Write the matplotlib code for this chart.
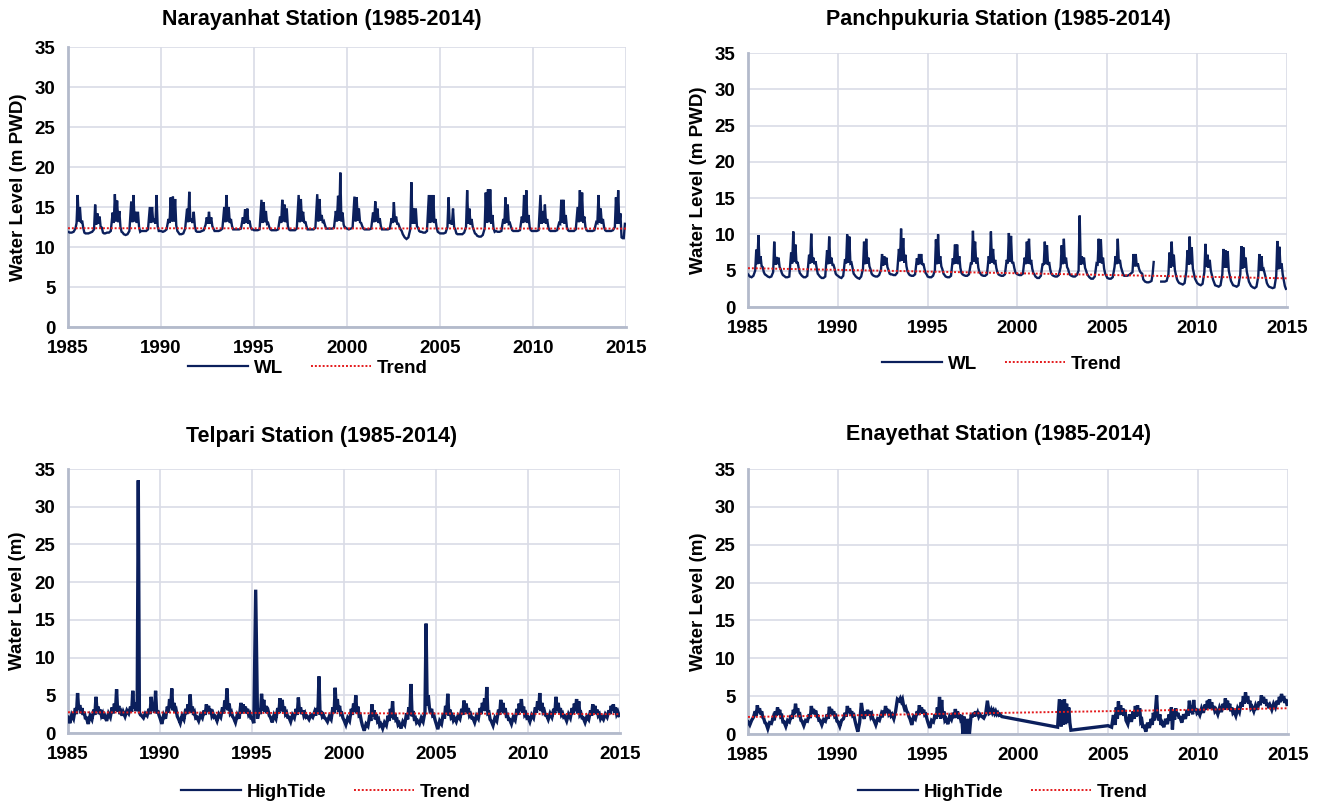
import numpy as np
import matplotlib
matplotlib.use("Agg")
import matplotlib.pyplot as plt
from matplotlib import font_manager

nan = np.nan

# ---------------- DATA ----------------
years = list(range(1985, 2015))
# sampling positions inside each year (fraction of year)
year_frac = [0.00, 0.10, 0.20, 0.30, 0.40, 0.46, 0.52, 0.58, 0.64, 0.70, 0.76, 0.82, 0.88, 0.94]

narayanhat_wl = [
    [11.9, 11.8, 11.8, 11.9, 12.3, 13.0, 16.5, 13.2, 15.0, 13.0, 13.3, 12.4, 11.8, 11.7],
    [11.7, 11.7, 11.8, 11.9, 12.2, 15.3, 12.8, 14.2, 12.9, 13.8, 12.4, 12.4, 11.8, 11.7],
    [11.7, 11.8, 11.8, 12.0, 14.3, 13.0, 16.6, 13.2, 15.8, 13.1, 14.5, 12.5, 11.9, 11.8],
    [11.6, 11.5, 11.6, 12.0, 15.7, 13.1, 16.5, 13.2, 14.4, 13.0, 14.4, 12.5, 11.9, 12.0],
    [12.0, 12.0, 12.0, 12.2, 15.0, 13.0, 15.0, 13.1, 13.5, 12.9, 16.5, 12.6, 12.0, 12.0],
    [12.0, 11.9, 12.0, 12.2, 13.5, 13.0, 16.2, 13.2, 16.3, 13.2, 16.0, 12.7, 12.0, 11.8],
    [11.6, 11.6, 11.7, 12.3, 14.8, 13.1, 16.9, 13.2, 13.5, 13.0, 14.4, 12.6, 12.0, 11.9],
    [11.9, 11.9, 12.0, 12.1, 12.8, 13.7, 12.9, 14.4, 12.9, 13.7, 12.6, 12.3, 12.0, 12.0],
    [12.0, 12.0, 12.1, 12.3, 15.0, 13.1, 16.5, 13.2, 15.0, 13.0, 13.5, 12.6, 12.2, 12.2],
    [12.2, 12.2, 12.2, 12.3, 13.7, 12.9, 14.7, 13.0, 14.8, 12.9, 13.3, 12.5, 12.2, 12.2],
    [12.1, 12.1, 12.1, 12.2, 15.9, 13.0, 15.6, 13.1, 14.5, 12.9, 13.0, 12.5, 12.2, 12.1],
    [12.1, 12.1, 12.1, 12.2, 13.8, 13.0, 15.9, 13.2, 15.3, 13.1, 14.8, 12.6, 12.2, 12.1],
    [12.1, 12.1, 12.1, 12.3, 16.5, 13.1, 16.0, 13.2, 14.4, 13.0, 13.2, 12.6, 12.2, 12.2],
    [12.2, 12.2, 12.2, 12.4, 16.6, 13.2, 16.0, 13.3, 14.0, 13.0, 13.2, 12.7, 12.3, 12.3],
    [12.3, 12.3, 12.3, 12.4, 14.5, 13.2, 16.4, 13.3, 19.3, 13.2, 14.3, 12.8, 12.4, 12.4],
    [12.3, 12.2, 12.3, 12.4, 16.3, 13.2, 16.2, 13.3, 14.8, 13.1, 13.0, 12.6, 12.3, 12.2],
    [12.2, 12.2, 12.2, 12.3, 14.3, 13.1, 15.7, 13.2, 14.8, 13.0, 13.6, 12.6, 12.2, 12.2],
    [12.2, 12.2, 12.2, 12.3, 13.6, 13.0, 15.6, 13.1, 13.8, 12.9, 12.9, 12.5, 12.2, 12.0],
    [11.6, 11.2, 11.0, 11.2, 12.2, 18.1, 12.9, 14.8, 12.9, 14.8, 12.6, 12.4, 12.0, 11.9],
    [11.9, 11.8, 11.8, 12.0, 16.5, 13.0, 16.5, 13.1, 16.5, 13.0, 13.5, 12.4, 11.9, 11.8],
    [11.7, 11.7, 11.7, 11.8, 12.5, 16.2, 12.9, 13.3, 12.8, 14.8, 12.5, 12.2, 11.7, 11.6],
    [11.6, 11.6, 11.6, 11.8, 12.5, 17.1, 12.9, 14.8, 12.8, 13.5, 12.5, 12.1, 11.7, 11.6],
    [11.4, 11.3, 11.3, 11.5, 12.3, 16.8, 13.0, 17.2, 13.1, 17.2, 12.9, 14.0, 12.3, 11.9],
    [12.0, 11.9, 11.9, 12.0, 13.5, 12.9, 16.2, 13.0, 15.3, 12.9, 13.0, 12.5, 12.1, 12.0],
    [12.0, 12.0, 12.0, 12.1, 13.8, 13.0, 16.5, 13.1, 17.1, 13.0, 14.0, 12.5, 12.1, 12.0],
    [12.0, 12.0, 12.0, 12.1, 16.5, 12.9, 14.5, 13.0, 15.3, 12.9, 13.5, 12.5, 12.1, 12.0],
    [12.0, 12.0, 12.0, 12.1, 13.0, 12.9, 15.9, 13.0, 15.9, 12.9, 14.0, 12.5, 12.1, 12.0],
    [12.0, 12.0, 12.0, 12.2, 15.0, 13.1, 17.1, 13.2, 16.8, 13.0, 13.8, 12.5, 12.1, 12.0],
    [12.0, 12.0, 12.0, 12.1, 13.1, 13.0, 16.5, 13.0, 14.8, 12.9, 13.5, 12.5, 12.1, 12.0],
    [12.0, 12.0, 12.0, 12.1, 12.5, 16.2, 12.9, 17.1, 12.9, 14.2, 11.2, 11.1, 11.1, 12.9],
]

panchpukuria_wl = [
    [4.5, 4.2, 4.1, 4.3, 5.0, 7.9, 5.9, 9.9, 6.0, 7.0, 5.6, 5.5, 4.8, 4.5],
    [4.4, 4.2, 4.1, 4.2, 4.8, 9.0, 5.8, 6.9, 5.9, 6.8, 5.5, 5.2, 4.7, 4.4],
    [4.3, 4.1, 4.1, 4.2, 7.5, 6.0, 10.4, 6.2, 8.6, 6.0, 6.2, 5.4, 4.7, 4.5],
    [4.3, 4.1, 4.1, 4.3, 7.2, 6.0, 10.1, 6.1, 6.8, 5.9, 6.3, 5.4, 4.6, 4.4],
    [4.2, 4.0, 4.0, 4.2, 7.8, 5.9, 9.7, 6.0, 6.8, 5.8, 5.8, 5.3, 4.6, 4.4],
    [4.3, 4.1, 4.0, 4.3, 6.6, 6.0, 10.0, 6.1, 9.7, 6.0, 6.1, 5.4, 4.6, 4.4],
    [4.2, 4.0, 3.9, 4.2, 5.3, 9.0, 5.9, 9.4, 6.0, 6.8, 5.6, 5.2, 4.6, 4.4],
    [4.3, 4.2, 4.2, 4.4, 5.1, 7.3, 5.7, 7.0, 5.8, 6.8, 5.5, 5.1, 4.6, 4.5],
    [4.5, 4.4, 4.4, 4.7, 8.0, 6.3, 10.8, 6.4, 9.5, 6.1, 7.2, 5.6, 4.9, 4.6],
    [4.4, 4.3, 4.3, 4.5, 6.7, 5.8, 7.3, 5.9, 7.3, 5.8, 6.0, 5.3, 4.7, 4.5],
    [4.2, 4.1, 4.1, 4.3, 5.0, 9.3, 5.9, 10.0, 6.0, 7.0, 5.6, 5.2, 4.6, 4.4],
    [4.2, 4.1, 4.1, 4.3, 6.7, 5.9, 8.6, 6.0, 8.6, 5.9, 7.0, 5.4, 4.7, 4.5],
    [4.4, 4.3, 4.3, 4.5, 6.0, 6.0, 10.5, 6.2, 9.0, 6.0, 6.8, 5.4, 4.8, 4.6],
    [4.4, 4.3, 4.3, 4.5, 7.0, 6.0, 10.4, 6.1, 8.0, 5.9, 6.5, 5.4, 4.8, 4.5],
    [4.4, 4.3, 4.3, 4.5, 6.5, 6.0, 10.2, 6.2, 9.8, 6.0, 6.2, 5.4, 4.8, 4.6],
    [4.5, 4.4, 4.4, 4.6, 6.8, 5.9, 9.0, 6.0, 9.4, 5.9, 6.5, 5.3, 4.7, 4.5],
    [4.2, 4.0, 4.0, 4.3, 6.0, 5.8, 9.0, 5.9, 8.5, 5.8, 6.2, 5.2, 4.6, 4.4],
    [4.3, 4.2, 4.2, 4.4, 5.5, 8.5, 5.9, 9.4, 6.0, 6.8, 5.5, 5.2, 4.6, 4.4],
    [4.3, 4.2, 4.2, 4.4, 5.0, 12.6, 5.8, 7.0, 5.9, 6.8, 5.4, 5.0, 4.5, 4.3],
    [4.1, 3.9, 3.9, 4.2, 6.0, 5.9, 9.4, 6.1, 9.3, 6.0, 6.8, 5.3, 4.6, 4.3],
    [4.0, 3.9, 3.9, 4.1, 5.5, 7.0, 5.9, 9.4, 6.0, 6.5, 5.5, 5.0, 4.5, 4.3],
    [4.3, 4.3, 4.4, 4.6, 4.8, 7.3, 5.6, 7.3, 5.6, 6.0, 5.3, 4.9, 4.7, 4.6],
    [3.8, 3.5, 3.4, 3.4, 3.5, 3.6, 4.5, 6.2, nan, nan, nan, nan, nan, nan],
    [3.5, 3.5, 3.5, 3.6, 4.5, 7.5, 5.4, 9.0, 5.6, 7.2, 5.1, 4.4, 3.8, 3.5],
    [3.3, 3.2, 3.1, 3.3, 5.0, 7.8, 5.8, 9.7, 5.9, 8.2, 5.3, 4.6, 3.9, 3.6],
    [3.3, 3.1, 3.0, 3.2, 4.8, 8.7, 5.5, 7.2, 5.4, 6.5, 5.0, 4.4, 3.8, 3.4],
    [3.0, 2.9, 2.8, 3.0, 4.5, 8.0, 5.4, 7.8, 5.4, 7.7, 5.0, 4.3, 3.6, 3.3],
    [3.0, 2.9, 2.8, 3.0, 4.5, 8.4, 5.3, 8.2, 5.4, 6.8, 4.9, 4.2, 3.5, 3.2],
    [2.9, 2.7, 2.6, 2.8, 4.2, 7.3, 5.0, 7.0, 5.0, 5.2, 4.6, 4.0, 3.3, 3.0],
    [2.8, 2.7, 2.6, 2.7, 4.3, 9.1, 5.2, 8.3, 5.3, 6.0, 4.5, 3.7, 2.9, 2.5],
]

telpari_hightide = [
    [2.1, 1.3, 2.4, 1.9, 3.3, 2.5, 5.3, 3.1, 3.7, 2.6, 3.3, 2.4, 2.8, 2.0],
    [2.0, 1.2, 2.3, 1.8, 3.1, 2.4, 4.8, 2.9, 3.5, 2.5, 3.1, 2.3, 2.6, 1.9],
    [2.3, 1.6, 2.6, 2.1, 3.4, 2.6, 3.9, 3.0, 5.8, 2.8, 3.6, 2.5, 2.8, 2.3],
    [2.8, 2.2, 3.0, 2.6, 3.5, 2.8, 5.6, 3.2, 4.0, 2.9, 3.5, 33.5, 2.7, 2.4],
    [2.3, 2.0, 2.6, 2.3, 3.2, 2.5, 4.8, 3.0, 3.8, 2.7, 5.6, 2.6, 3.0, 2.4],
    [2.0, 1.2, 2.4, 1.9, 3.5, 2.7, 4.5, 3.3, 5.9, 3.0, 4.0, 2.7, 3.0, 2.2],
    [1.9, 1.3, 2.3, 1.8, 3.2, 2.5, 3.8, 2.9, 5.1, 2.7, 3.5, 2.4, 2.7, 2.0],
    [2.1, 1.6, 2.4, 2.0, 3.0, 2.4, 3.8, 2.8, 3.6, 2.5, 3.2, 2.3, 2.6, 2.1],
    [2.2, 1.6, 2.5, 2.1, 3.4, 2.6, 4.3, 3.2, 5.9, 3.0, 3.9, 2.6, 2.8, 2.2],
    [2.0, 1.4, 2.4, 1.9, 4.0, 2.6, 3.8, 2.9, 3.5, 2.6, 3.2, 2.4, 2.6, 2.0],
    [2.0, 1.3, 19.0, 1.9, 3.2, 2.5, 5.2, 3.0, 4.4, 2.8, 3.6, 2.6, 2.9, 2.3],
    [2.1, 1.4, 2.4, 1.9, 3.3, 2.6, 4.6, 3.0, 4.4, 2.8, 3.5, 2.5, 2.7, 2.1],
    [2.1, 1.5, 2.4, 2.0, 3.2, 2.4, 4.7, 2.9, 3.4, 2.5, 3.0, 2.3, 2.6, 2.1],
    [2.2, 1.8, 2.4, 2.1, 2.8, 2.3, 3.3, 2.6, 7.5, 2.4, 2.9, 2.2, 2.4, 2.0],
    [1.9, 1.5, 2.2, 1.8, 3.4, 2.6, 6.0, 3.1, 4.5, 2.8, 3.6, 2.5, 2.6, 2.0],
    [1.7, 1.1, 2.0, 1.6, 3.2, 2.4, 3.9, 2.8, 5.0, 2.6, 3.5, 2.3, 2.4, 1.6],
    [1.0, 0.3, 1.2, 0.9, 2.4, 1.6, 3.8, 2.2, 3.0, 1.8, 2.5, 1.6, 1.8, 1.0],
    [1.2, 0.6, 1.4, 1.0, 2.3, 1.6, 3.2, 2.0, 4.2, 1.8, 2.6, 1.7, 1.8, 1.1],
    [1.3, 0.6, 1.5, 1.1, 2.6, 1.8, 3.4, 2.4, 6.5, 2.2, 2.9, 1.9, 2.0, 1.4],
    [1.6, 1.2, 2.0, 1.5, 2.8, 14.5, 3.6, 5.0, 3.4, 2.6, 3.2, 2.3, 2.4, 1.8],
    [1.3, 0.5, 1.6, 1.2, 2.6, 1.9, 3.6, 2.5, 5.2, 2.3, 3.1, 2.1, 2.3, 1.7],
    [2.0, 1.5, 2.3, 1.9, 3.2, 2.4, 4.3, 2.9, 3.9, 2.6, 3.3, 2.3, 2.5, 2.0],
    [2.0, 1.4, 2.3, 1.9, 3.3, 2.5, 4.0, 3.0, 4.6, 2.9, 6.1, 2.6, 2.7, 1.8],
    [1.6, 1.0, 2.0, 1.6, 3.1, 2.4, 4.4, 2.8, 4.0, 2.6, 3.3, 2.3, 2.4, 1.8],
    [1.8, 1.2, 2.1, 1.7, 3.2, 2.4, 3.9, 2.9, 4.5, 2.7, 3.5, 2.4, 2.6, 2.0],
    [2.1, 1.5, 2.4, 2.0, 3.4, 2.7, 4.2, 3.1, 5.3, 2.9, 4.0, 2.8, 3.0, 2.4],
    [2.4, 1.8, 2.6, 2.1, 3.2, 2.6, 4.8, 3.0, 4.0, 2.7, 3.3, 2.4, 2.6, 2.1],
    [2.2, 1.6, 2.5, 2.0, 3.3, 2.5, 3.9, 2.9, 4.5, 2.6, 4.2, 2.4, 2.6, 2.0],
    [2.0, 1.4, 2.2, 1.8, 3.0, 2.3, 3.8, 2.7, 3.6, 2.5, 3.1, 2.3, 2.5, 1.9],
    [2.2, 1.8, 2.5, 2.1, 3.0, 2.5, 3.6, 3.0, 3.8, 2.7, 3.4, 2.5, 2.8, 2.3],
]

# missing readings are nan; the chart joins the remaining points straight across
enayethat_hightide = [
    [1.6, 1.2, 1.8, 2.2, 3.0, 2.4, 3.8, 2.8, 3.4, 2.6, 3.0, 2.2, 2.0, 1.5],
    [1.4, 0.7, 1.5, 1.4, 2.2, 1.8, 3.0, 2.4, 3.5, 2.6, 3.2, 2.3, 2.4, 1.6],
    [1.6, 1.0, 1.8, 1.6, 2.5, 2.0, 3.2, 2.6, 4.0, 2.8, 3.4, 2.5, 2.6, 1.8],
    [1.7, 1.1, 1.8, 1.7, 2.6, 2.1, 3.7, 2.7, 3.3, 2.6, 3.1, 2.4, 2.4, 1.8],
    [1.8, 1.2, 1.9, 1.7, 2.6, 2.0, 3.6, 2.7, 3.3, 2.5, 3.0, 2.3, 2.4, 1.7],
    [1.6, 1.0, 1.8, 2.0, 2.8, 2.3, 3.7, 2.8, 3.4, 2.6, 3.0, 2.4, 2.5, 1.8],
    [1.2, 0.3, 1.5, 4.1, 2.4, 2.0, 3.0, 2.4, 3.2, 2.5, 3.0, 2.3, 2.6, 2.0],
    [1.8, 1.2, 2.0, 1.8, 2.6, 2.2, 3.1, 2.6, 3.7, 2.8, 3.3, 2.6, 2.8, 2.4],
    [2.6, 2.0, 3.0, 4.6, 4.4, 4.7, 4.3, 4.6, 3.8, 3.3, 3.5, 3.0, 2.8, 2.3],
    [2.0, 1.2, 2.3, 2.0, 3.0, 2.5, 3.8, 2.9, 3.5, 2.7, 3.2, 2.5, 2.6, 2.0],
    [1.5, 0.8, 1.8, 1.6, 2.6, 2.0, 3.5, 2.3, 4.9, 2.0, 4.5, 2.2, 3.0, 1.8],
    [2.0, 1.3, 2.3, 1.9, 2.8, 2.1, 3.3, 2.2, 3.0, 2.0, 2.6, 1.9, 2.1, 0.0],
    [2.3, 0.0, 2.0, 0.0, 2.6, 2.2, 2.8, 2.3, 3.0, 2.4, 2.8, 2.3, 2.6, 2.4],
    [2.3, 2.1, 2.6, 4.4, 2.7, 2.8, 3.2, 2.8, 3.1, 2.7, 3.0, 2.6, 2.8, 2.5],
    [2.6, 2.3, nan, nan, nan, nan, nan, nan, nan, nan, nan, nan, nan, nan],
    [nan] * 14,
    [nan] * 14,
    [nan, nan, 0.9, 4.6, 1.0, 4.5, 1.2, 4.6, 1.3, 4.0, 1.5, 3.5, 1.5, 0.5],
    [nan] * 14,
    [nan] * 14,
    [1.1, 1.0, 0.9, 2.5, 1.2, 3.5, 2.0, 4.3, 2.5, 3.8, 2.6, 3.4, 2.4, 3.2],
    [1.8, 1.3, 2.6, 1.6, 3.0, 2.0, 3.7, 2.3, 3.8, 2.4, 3.4, 1.6, 1.8, 0.8],
    [1.2, 0.3, 1.5, 0.8, 2.0, 1.2, 2.8, 1.8, 3.2, 5.1, 2.5, 1.8, 2.6, 1.2],
    [1.5, 0.9, 2.0, 1.3, 2.6, 1.8, 3.5, 0.6, 3.0, 1.9, 3.4, 2.4, 2.8, 2.2],
    [2.2, 1.5, 2.6, 2.0, 3.2, 2.4, 4.4, 2.8, 3.8, 2.6, 4.5, 3.0, 3.4, 2.8],
    [3.0, 2.5, 3.4, 2.8, 3.9, 3.2, 4.4, 3.4, 4.6, 3.3, 4.2, 3.2, 3.7, 3.0],
    [3.2, 2.6, 3.5, 2.9, 4.0, 3.2, 4.7, 3.4, 4.4, 3.2, 4.0, 3.0, 3.5, 2.8],
    [3.0, 2.4, 3.4, 2.9, 4.2, 3.6, 5.0, 4.0, 5.5, 4.2, 5.0, 4.0, 4.4, 3.4],
    [3.6, 3.0, 3.8, 3.2, 4.3, 3.8, 5.1, 4.2, 4.9, 4.0, 4.6, 3.7, 4.1, 3.4],
    [3.8, 3.2, 4.0, 3.5, 4.4, 3.9, 4.9, 4.2, 5.3, 4.4, 5.0, 4.1, 4.6, 3.9],
]

# linear trend (value at 1985, value at 2015)
narayanhat_trend = [12.35, 12.30]
panchpukuria_trend = [5.35, 3.95]
telpari_trend = [2.75, 2.50]
enayethat_trend = [2.25, 3.40]

titles = ["Narayanhat Station (1985-2014)", "Panchpukuria Station (1985-2014)",
          "Telpari Station (1985-2014)", "Enayethat Station (1985-2014)"]
ylabels = ["Water Level (m PWD)", "Water Level (m PWD)", "Water Level (m)", "Water Level (m)"]
series_names = ["WL", "WL", "HighTide", "HighTide"]
x_ticks = [1985, 1990, 1995, 2000, 2005, 2010, 2015]
y_ticks = [0, 5, 10, 15, 20, 25, 30, 35]

# ---------------- STYLE ----------------
fams = [f.name for f in font_manager.fontManager.ttflist]
base_font = "Liberation Sans Narrow" if "Liberation Sans Narrow" in fams else "Liberation Sans"
plt.rcParams["font.family"] = [base_font, "DejaVu Sans"]
plt.rcParams["font.weight"] = "bold"

NAVY = "#0B1F5C"
RED = "#E41A1C"
GRID = "#D9DCE6"
SPINE = "#B3BACB"

W, H = 1322, 805
fig = plt.figure(figsize=(W / 100, H / 100), dpi=100)

# axes boxes in pixels: left, right, top, bottom
boxes = [(68, 626, 47, 327), (748, 1287, 53, 307), (68, 620, 469, 733), (748, 1288, 469, 734)]
title_pos = [(322, 20), (998, 20), (322, 436), (999, 434)]
legend_pos = [(308, 368), (1002, 364), (326, 792), (1003, 792)]
label_x = [-0.073, -0.076, -0.076, -0.076]
line_w = [1.7, 1.7, 2.4, 2.4]

def build(rows, drop_nan):
    xs, ys = [], []
    for yr, row in zip(years, rows):
        for f, v in zip(year_frac, row):
            xs.append(yr + f)
            ys.append(v)
    xs = np.array(xs); ys = np.array(ys, dtype=float)
    if drop_nan:
        m = ~np.isnan(ys)
        xs, ys = xs[m], ys[m]
    return xs, ys

all_rows = [narayanhat_wl, panchpukuria_wl, telpari_hightide, enayethat_hightide]
all_trends = [narayanhat_trend, panchpukuria_trend, telpari_trend, enayethat_trend]
drop = [False, False, False, True]

for i in range(4):
    l, r, t, b = boxes[i]
    ax = fig.add_axes([l / W, 1 - b / H, (r - l) / W, (b - t) / H])
    xs, ys = build(all_rows[i], drop[i])
    ax.plot(xs, ys, color=NAVY, lw=line_w[i], zorder=3, solid_joinstyle="miter")
    ax.plot([1985, 2015], all_trends[i], color=RED, lw=1.4,
            linestyle=(0, (1, 1)), zorder=4)
    h1 = plt.Line2D([], [], color=NAVY, lw=1.6, label=series_names[i])
    h2 = plt.Line2D([], [], color=RED, lw=1.4, linestyle=(0, (1, 1)), label="Trend")
    ax.set_xlim(1985, 2015)
    ax.set_ylim(0, 35)
    ax.set_xticks(x_ticks)
    ax.set_yticks(y_ticks)
    ax.grid(True, color=GRID, lw=1.2)
    ax.set_axisbelow(True)
    for s in ["top", "right"]:
        ax.spines[s].set_visible(False)
    for s in ["left", "bottom"]:
        ax.spines[s].set_color(SPINE)
        ax.spines[s].set_linewidth(2.0)
    ax.tick_params(length=0, labelsize=13.5, pad=9)
    for lab in ax.get_xticklabels() + ax.get_yticklabels():
        lab.set_fontweight("bold")
    ax.set_ylabel(ylabels[i], fontsize=13.5, fontweight="bold")
    ax.yaxis.set_label_coords(label_x[i], 0.5)
    tx, ty = title_pos[i]
    fig.text(tx / W, 1 - ty / H, titles[i], ha="center", va="center",
             fontsize=15.5, fontweight="bold")
    lx, ly = legend_pos[i]
    fig.legend(handles=[h1, h2], loc="center", bbox_to_anchor=(lx / W, 1 - ly / H),
               ncol=2, frameon=False, handlelength=3.2,
               columnspacing=1.5, handletextpad=0.3,
               prop={"weight": "bold", "size": 13.5})

fig.savefig("out.png", dpi=100)
